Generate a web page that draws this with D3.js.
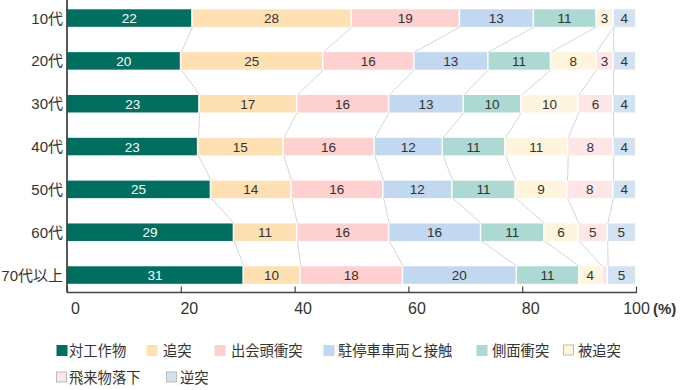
<!DOCTYPE html>
<html><head><meta charset="utf-8">
<script src="https://cdn.jsdelivr.net/npm/d3@7"></script>
<style>
body{margin:0;background:#fff;}
text{font-family:"Liberation Sans","Noto Sans CJK JP",sans-serif;fill:#333;}
</style></head>
<body><svg id="c" width="680" height="390"></svg>
<script>
const categories = ["10代","20代","30代","40代","50代","60代","70代以上"];
const seriesNames = ["対工作物","追突","出会頭衝突","駐停車車両と接触","側面衝突","被追突","飛来物落下","逆突"];
const v_taikousakubutsu = [22,20,23,23,25,29,31];
const v_tsuitotsu       = [28,25,17,15,14,11,10];
const v_deaigashira     = [19,16,16,16,16,16,18];
const v_chuteisha       = [13,13,13,12,12,16,20];
const v_sokumen         = [11,11,10,11,11,11,11];
const v_hitsuitotsu     = [3,8,10,11,9,6,4];
const v_hiraibutsu      = [0,3,6,8,8,5,1];
const v_gyakutotsu      = [4,4,4,4,4,5,5];
const seriesValues = [v_taikousakubutsu,v_tsuitotsu,v_deaigashira,v_chuteisha,v_sokumen,v_hitsuitotsu,v_hiraibutsu,v_gyakutotsu];
const colors = ["#006f5f","#ffe0b3","#ffd0d0","#c1d8f0","#acdad2","#fff4dd","#ffe6e6","#d2e2f1"];
const xTicks = [0,20,40,60,80,100];

const rows = categories.map((c,i)=>{const o={cat:c}; seriesNames.forEach((s,j)=>o[s]=seriesValues[j][i]); return o;});
const stack = d3.stack().keys(seriesNames).offset(d3.stackOffsetExpand)(rows);

const svg = d3.select("#c");
const x = d3.scaleLinear().domain([0,100]).range([67.5,636.5]);
const y = d3.scaleBand().domain(categories).range([9.3,283.8]).paddingInner(0.591).paddingOuter(0);
const bw = y.bandwidth();

// connecting lines
const cum = categories.map((c,i)=>stack.map(s=>s[i][1]*100));
const lines = svg.append("g");
for(let i=0;i<categories.length-1;i++){
  for(let k=0;k<seriesNames.length-1;k++){
    lines.append("line")
      .attr("x1",x(cum[i][k])).attr("y1",y(categories[i])+bw)
      .attr("x2",x(cum[i+1][k])).attr("y2",y(categories[i+1]))
      .attr("stroke","#d6d6d6").attr("stroke-width",1);
  }
}

// bars
const g = svg.append("g");
stack.forEach((s,j)=>{
  s.forEach((d,i)=>{
    const x0=x(d[0]*100), x1=x(d[1]*100);
    const w=Math.max(0,x1-x0-1.5);
    if(w<=0) return;
    g.append("rect").attr("x",x0).attr("y",y(categories[i])).attr("width",w).attr("height",bw).attr("fill",colors[j]);
    const val=seriesValues[j][i];
    if(val>=2){
      g.append("text").attr("x",x0+w/2).attr("y",y(categories[i])+bw/2+5)
        .attr("text-anchor","middle").style("font-size","13.5px")
        .style("fill",j===0?"#fff":"#333").text(val);
    }
  });
});

// y axis line & labels
svg.append("line").attr("x1",67).attr("x2",67).attr("y1",0).attr("y2",292.5).attr("stroke","#222").attr("stroke-width",1.5);
categories.forEach(c=>{
  svg.append("text").attr("x",63).attr("y",y(c)+bw/2+5.5).attr("text-anchor","end").style("font-size","15px").text(c);
});

// x axis
const ax = svg.append("g");
ax.append("line").attr("x1",67).attr("x2",637).attr("y1",292.5).attr("y2",292.5).attr("stroke","#444").attr("stroke-width",1.5);
xTicks.forEach(t=>{
  ax.append("line").attr("x1",x(t)).attr("x2",x(t)).attr("y1",286.5).attr("y2",292.5).attr("stroke","#444").attr("stroke-width",1.2);
  const off = t===100?0:8;
  ax.append("text").attr("x",x(t)+off).attr("y",314).attr("text-anchor","middle").style("font-size","16px").text(t);
});
ax.append("text").attr("x",653).attr("y",314).style("font-size","15px").style("font-weight","bold").text("(%)");

// legend
const legendSq = [[56,350],[146,350],[214,350],[323,350],[476,350],[563,350],[56,377],[166,377]];
const legendTx = [69,163,231,338,492,578,69,180];
seriesNames.forEach((s,j)=>{
  const [lx,ly]=legendSq[j];
  const bordered = j>=5;
  svg.append("rect").attr("x",lx+0.5).attr("y",ly-5).attr("width",bordered?10:11).attr("height",bordered?10:11)
    .attr("fill",colors[j]).attr("stroke",bordered?"#bbb":"none").attr("stroke-width",1);
  svg.append("text").attr("x",legendTx[j]).attr("y",ly+5.5).style("font-size","14.3px").text(s);
});
</script></body></html>
